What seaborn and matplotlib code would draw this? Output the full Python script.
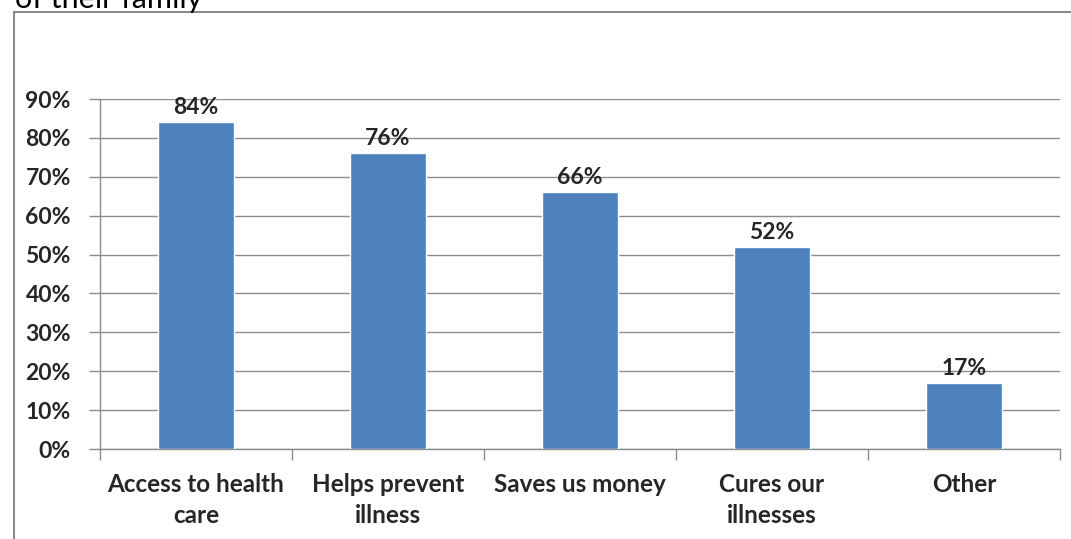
import matplotlib
matplotlib.use("Agg")
import matplotlib.pyplot as plt
import seaborn as sns
import pandas as pd
from matplotlib.patches import Rectangle
from matplotlib.ticker import FixedLocator, PercentFormatter

categories = ["Access to health\ncare", "Helps prevent\nillness", "Saves us money",
              "Cures our\nillnesses", "Other"]
values = [84, 76, 66, 52, 17]
yticks = [0, 10, 20, 30, 40, 50, 60, 70, 80, 90]

sns.set_theme(style="white")
plt.rcParams["font.family"] = ["Lato", "DejaVu Sans"]

df = pd.DataFrame({"reason": categories, "pct": values})

fig = plt.figure(figsize=(10.71, 5.39), dpi=100)
ax = fig.add_axes([100 / 1071, 1 - 449 / 539, 960 / 1071, 350 / 539])

sns.barplot(data=df, x="reason", y="pct", color="#4F81BD", saturation=1,
            width=0.4, ax=ax, zorder=3)

grid_c = "#8C8C8C"
fs = 16.5
ax.set_ylim(0, 90)
ax.set_xlim(-0.5, len(categories) - 0.5)
ax.yaxis.set_major_locator(FixedLocator(yticks))
ax.yaxis.set_major_formatter(PercentFormatter(decimals=0))
ax.grid(axis="y", color=grid_c, linewidth=1, zorder=0)
ax.set_axisbelow(True)
for s in ["top", "right"]:
    ax.spines[s].set_visible(False)
for s in ["left", "bottom"]:
    ax.spines[s].set_color(grid_c)
    ax.spines[s].set_linewidth(1)

ax.tick_params(axis="y", which="major", length=8, width=1, color=grid_c,
               direction="out", pad=13, labelsize=fs, left=True)
ax.tick_params(axis="x", which="major", length=0, pad=17, labelsize=17.5)
ax.set_xticks(range(len(categories)))
ax.set_xticklabels(categories, fontweight="bold", linespacing=1.45)
ax.set_xticks([i - 0.5 for i in range(len(categories) + 1)], minor=True)
ax.tick_params(axis="x", which="minor", length=8, width=1, color=grid_c,
               direction="out", bottom=True)
for lbl in ax.get_yticklabels():
    lbl.set_fontweight("bold")
ax.set_xlabel("")
ax.set_ylabel("")

for i, v in enumerate(values):
    ax.annotate(f"{v}%", (i, v), xytext=(0, 3), textcoords="offset points",
                ha="center", va="bottom", fontsize=fs, fontweight="bold")

# chart frame
fig.patches.append(Rectangle((14 / 1071, -0.05), 1.2, 1 - 12 / 539 + 0.05,
                             transform=fig.transFigure, fill=False,
                             edgecolor="#8C8C8C", linewidth=1.5))

fig.text(15 / 1071, 1 - 8 / 539, "of their family", ha="left", va="baseline",
         fontsize=22, color="black")

fig.savefig("out.png", dpi=100)
